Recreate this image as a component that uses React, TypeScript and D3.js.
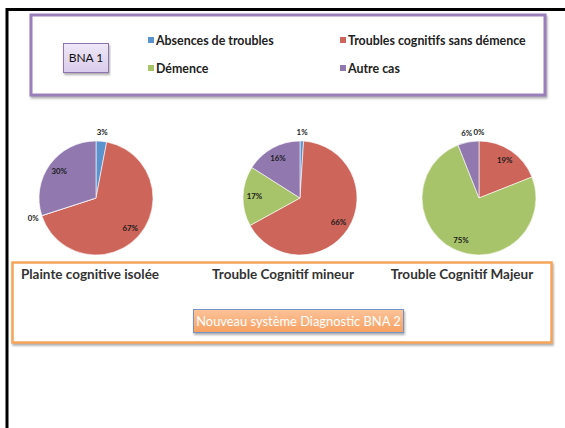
import { useEffect, useRef } from "react";
import * as d3 from "d3";

const categories = ["Absences de troubles", "Troubles cognitifs sans démence", "Démence", "Autre cas"];
const colors = ["#5b93cf", "#cd655b", "#a8c46a", "#9179b0"];

const panels = ["Plainte cognitive isolée", "Trouble Cognitif mineur", "Trouble Cognitif Majeur"];
const plainte = [3, 67, 0, 30];
const mineur = [1, 66, 17, 16];
const majeur = [0, 19, 75, 6];
const series = [plainte, mineur, majeur];

const pieCentersX = [96, 300, 479];

const App = () => {
  const ref = useRef<SVGSVGElement>(null);

  useEffect(() => {
    if (!ref.current) return;
    const width = 565;
    const height = 428;
    const svg = d3.select(ref.current);
    svg.selectAll("*").remove();
    svg.attr("width", width).attr("height", height);

    const font = "Lato, 'Open Sans', sans-serif";

    const defs = svg.append("defs");
    const shadow = defs.append("filter").attr("id", "shadow").attr("x", "-5%").attr("y", "-10%").attr("width", "110%").attr("height", "130%");
    shadow.append("feDropShadow").attr("dx", 1).attr("dy", 2).attr("stdDeviation", 1.2).attr("flood-color", "#777").attr("flood-opacity", 0.6);

    const bnaGrad = defs.append("linearGradient").attr("id", "bnaGrad").attr("x1", 0).attr("y1", 0).attr("x2", 0).attr("y2", 1);
    bnaGrad.append("stop").attr("offset", "0%").attr("stop-color", "#efe8f7");
    bnaGrad.append("stop").attr("offset", "100%").attr("stop-color", "#d9cbeb");

    const btnGrad = defs.append("linearGradient").attr("id", "btnGrad").attr("x1", 0).attr("y1", 0).attr("x2", 0).attr("y2", 1);
    btnGrad.append("stop").attr("offset", "0%").attr("stop-color", "#fcc39a");
    btnGrad.append("stop").attr("offset", "100%").attr("stop-color", "#f8a060");

    // page frame
    svg.append("line").attr("x1", 7).attr("x2", width).attr("y1", 9.5).attr("y2", 9.5).attr("stroke", "#000").attr("stroke-width", 3);
    svg.append("line").attr("x1", 7).attr("x2", 7).attr("y1", 8).attr("y2", height).attr("stroke", "#000").attr("stroke-width", 3);

    // legend box
    svg.append("rect").attr("x", 31).attr("y", 15).attr("width", 514).attr("height", 80)
      .attr("fill", "#fff").attr("stroke", "#9a80bb").attr("stroke-width", 3).attr("filter", "url(#shadow)");

    svg.append("rect").attr("x", 63.5).attr("y", 43.5).attr("width", 45).attr("height", 29)
      .attr("fill", "url(#bnaGrad)").attr("stroke", "#8f74b0").attr("stroke-width", 1).attr("filter", "url(#shadow)");
    svg.append("text").attr("x", 86).attr("y", 62).attr("text-anchor", "middle")
      .attr("font-family", font).attr("font-size", 12).attr("fill", "#111").text("BNA 1");

    const legendX = d3.scaleOrdinal<number, number>().domain([0, 1]).range([148, 340]);
    const legendY = d3.scaleOrdinal<number, number>().domain([0, 1]).range([40, 68]);
    const leg = svg.append("g").selectAll("g").data(categories).join("g")
      .attr("transform", (_, i) => `translate(${legendX(i % 2)},${legendY(Math.floor(i / 2))})`);
    leg.append("rect").attr("x", 0).attr("y", -3).attr("width", 6).attr("height", 6).attr("fill", (_, i) => colors[i]);
    leg.append("text").attr("x", 8).attr("y", 4.5).attr("font-family", font).attr("font-weight", 700)
      .attr("font-size", 12.4).attr("fill", "#222").text((d) => d);

    // pies
    const radius = 57;
    const pie = d3.pie<number>().sort(null).value((d) => d);
    const arc = d3.arc<d3.PieArcDatum<number>>().innerRadius(0).outerRadius(radius);
    const inside = d3.arc<d3.PieArcDatum<number>>().innerRadius(radius * 0.8).outerRadius(radius * 0.8);
    const outside = d3.arc<d3.PieArcDatum<number>>().innerRadius(radius * 1.16).outerRadius(radius * 1.16);
    const cy = 198;

    series.forEach((values, k) => {
      const g = svg.append("g").attr("transform", `translate(${pieCentersX[k]},${cy})`);
      const arcs = pie(values);
      g.selectAll("path").data(arcs).join("path")
        .attr("d", arc).attr("fill", (_, i) => colors[i]).attr("stroke", "#fff").attr("stroke-width", 0.6);
      g.selectAll("text").data(arcs).join("text")
        .attr("transform", (d) => `translate(${(d.data >= 10 ? inside : outside).centroid(d)})`)
        .attr("text-anchor", "middle").attr("dy", "0.35em")
        .attr("font-family", font).attr("font-weight", 700).attr("font-size", 7.8).attr("fill", "#1a1a1a")
        .text((d) => `${d.data}%`);
    });

    // bottom box
    svg.append("rect").attr("x", 12.5).attr("y", 262.5).attr("width", 539).attr("height", 80)
      .attr("fill", "#fff").attr("stroke", "#f5a55a").attr("stroke-width", 2.5).attr("filter", "url(#shadow)");

    const panelX = d3.scaleOrdinal<string, number>().domain(panels).range([90, 283, 462]);
    svg.append("g").selectAll("text").data(panels).join("text")
      .attr("x", (d) => panelX(d)).attr("y", 279).attr("text-anchor", "middle")
      .attr("font-family", font).attr("font-weight", 700).attr("font-size", 13.5).attr("fill", "#333").text((d) => d);

    svg.append("rect").attr("x", 193.5).attr("y", 309.5).attr("width", 210).attr("height", 23)
      .attr("fill", "url(#btnGrad)").attr("stroke", "#7593c4").attr("stroke-width", 1).attr("filter", "url(#shadow)");
    svg.append("text").attr("x", 298.5).attr("y", 325.5).attr("text-anchor", "middle")
      .attr("font-family", font).attr("font-size", 12.9).attr("fill", "#fff").text("Nouveau système Diagnostic BNA 2");
  }, []);

  return (
    <svg ref={ref} style={{ position: "absolute", left: 0, top: 0, background: "#fff" }} />
  );
};

export default App;
